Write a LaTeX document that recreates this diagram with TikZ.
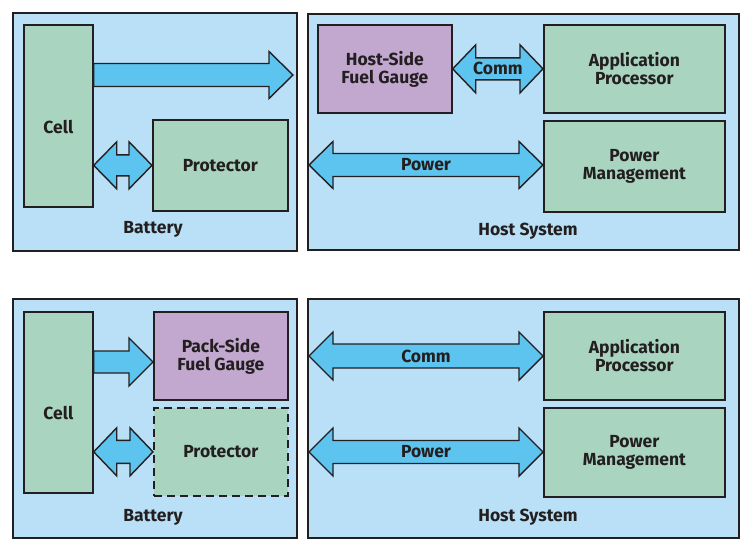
\documentclass[tikz,border=0pt]{standalone}
\usepackage{fontspec}
\setmainfont{Fira Sans}
\usetikzlibrary{calc}
\definecolor{ink}{HTML}{231F20}
\definecolor{framebg}{HTML}{B9E0F6}
\definecolor{boxgreen}{HTML}{A9D5C0}
\definecolor{boxpurple}{HTML}{C2A7CF}
\definecolor{arrowblue}{HTML}{5CC4EE}
\newcommand\lblfont{\fontsize{17.5}{18}\selectfont\bfseries}
\tikzset{
  frame/.style={draw=ink, fill=framebg, line width=1.7pt, anchor=north west, inner sep=0pt},
  block/.style={draw=ink, fill=boxgreen, line width=1.7pt, anchor=north west, inner sep=0pt, align=center, font=\lblfont, text=ink},
  gauge/.style={block, fill=boxpurple},
  dashedblock/.style={block, dash pattern=on 8pt off 5pt},
  lbl/.style={font=\lblfont, text=ink, align=center, inner sep=0pt},
  arrowshape/.style={draw=ink, fill=arrowblue, line width=1.4pt, line join=miter},
}
% single block arrow: #1 start, #2 end (same y), #3 body half, #4 head half, #5 head length
\newcommand\sarrow[5]{%
  \draw[arrowshape] let \p1=(#1), \p2=(#2) in
   (\x1,\y1+#3pt) -- (\x2-#5pt,\y1+#3pt) -- (\x2-#5pt,\y1+#4pt) -- (\x2,\y1)
   -- (\x2-#5pt,\y1-#4pt) -- (\x2-#5pt,\y1-#3pt) -- (\x1,\y1-#3pt) -- cycle;}
% double block arrow
\newcommand\darrow[5]{%
  \draw[arrowshape] let \p1=(#1), \p2=(#2) in
   (\x1,\y1) -- (\x1+#5pt,\y1+#4pt) -- (\x1+#5pt,\y1+#3pt) -- (\x2-#5pt,\y1+#3pt)
   -- (\x2-#5pt,\y1+#4pt) -- (\x2,\y1) -- (\x2-#5pt,\y1-#4pt) -- (\x2-#5pt,\y1-#3pt)
   -- (\x1+#5pt,\y1-#3pt) -- (\x1+#5pt,\y1-#4pt) -- cycle;}
\begin{document}
\begin{tikzpicture}[x=1pt,y=-1pt]
\useasboundingbox[fill=white] (0,0) rectangle (750,549);
% ---------- top row ----------
\node[frame, minimum width=284pt, minimum height=238pt] (bat1) at (12,12) {};
\node[frame, minimum width=431pt, minimum height=236pt] (host1) at (307,13) {};
\node[block, minimum width=69pt, minimum height=182pt] (cell1) at (23,24) {};
\node[lbl] (cell1t) at ($(cell1.center)+(0,11)$) {Cell};
\node[block, minimum width=135pt, minimum height=91pt] (prot1) at (152,119) {Protector};
\node[gauge, minimum width=134pt, minimum height=88pt] (hfg) at (317,24) {Host-Side\\Fuel Gauge};
\node[block, minimum width=181pt, minimum height=88pt] (ap1) at (543,24) {Application\\Processor};
\node[block, minimum width=181pt, minimum height=91pt] (pm1) at (543,120) {Power\\Management};
\node[lbl] (batl1) at (153,229) {Battery};
\node[lbl] (hostl1) at (528,231) {Host System};
\coordinate (out1) at (293,75);
\sarrow{cell1.east |- out1}{out1}{11.5}{23.5}{24}
\darrow{cell1.east |- prot1.west}{prot1.west}{10.5}{23.5}{23}
\darrow{hfg.east}{hfg.east -| ap1.west}{11}{24}{23}
\node[lbl] at ($(hfg.east)!0.5!(hfg.east -| ap1.west)$) {Comm};
\coordinate (pw1) at (309,165);
\darrow{pw1}{pw1 -| pm1.west}{11.5}{23.5}{24}
\node[lbl] at ($(pw1)!0.5!(pw1 -| pm1.west)$) {Power};
% ---------- bottom row ----------
\node[frame, minimum width=284pt, minimum height=239pt] (bat2) at (12,298) {};
\node[frame, minimum width=431pt, minimum height=239pt] (host2) at (307,298) {};
\node[block, minimum width=69pt, minimum height=181pt] (cell2) at (23,311) {};
\node[lbl] (cell2t) at ($(cell2.center)+(0,11)$) {Cell};
\node[gauge, minimum width=134pt, minimum height=88pt] (pfg) at (153,311) {Pack-Side\\Fuel Gauge};
\node[dashedblock, minimum width=134pt, minimum height=88pt] (prot2) at (153,407) {Protector};
\node[block, minimum width=181pt, minimum height=88pt] (ap2) at (543,311) {Application\\Processor};
\node[block, minimum width=181pt, minimum height=89pt] (pm2) at (543,407) {Power\\Management};
\node[lbl] (batl2) at (153,517) {Battery};
\node[lbl] (hostl2) at (528,517) {Host System};
\coordinate (in2) at (0,362);
\sarrow{cell2.east |- in2}{pfg.west |- in2}{11}{24}{24}
\darrow{cell2.east |- prot2.west}{prot2.west}{11.5}{24}{23}
\coordinate (cm2) at (309,356);
\darrow{cm2}{cm2 -| ap2.west}{12}{24}{24}
\node[lbl] at ($(cm2)!0.5!(cm2 -| ap2.west)$) {Comm};
\coordinate (pw2) at (309,452);
\darrow{pw2}{pw2 -| pm2.west}{11.5}{24}{24}
\node[lbl] at ($(pw2)!0.5!(pw2 -| pm2.west)$) {Power};
\end{tikzpicture}
\end{document}
